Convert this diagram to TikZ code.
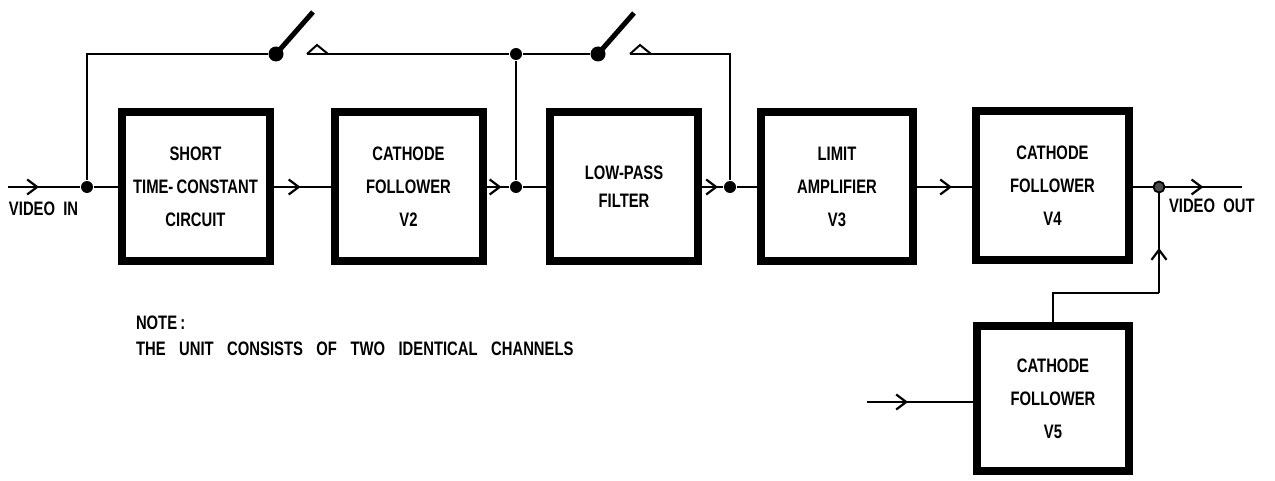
\documentclass[tikz,border=0pt]{standalone}
\usepackage{fontspec}
\newfontfamily\diafont{Liberation Sans}[FakeStretch=0.76]
\usetikzlibrary{arrows.meta,decorations.markings}
\tikzset{
  diatext/.style={font=\diafont\bfseries\fontsize{19.5}{33}\selectfont},
  blk/.style={draw, line width=8pt, inner sep=0pt, minimum width=148pt, minimum height=149pt, align=center, diatext},
  dot/.style={circle, fill=black, inner sep=0pt, minimum size=12pt},
  pivot/.style={circle, fill=black, inner sep=0pt, minimum size=15pt},
  odot/.style={circle, draw=black, fill=black!70, line width=1.8pt, inner sep=0pt, minimum size=11pt},
  lbl/.style={diatext, inner sep=0pt, anchor=west},
  blade/.style={line width=5pt},
  midarrow/.style={postaction={decorate}, decoration={markings, mark=at position #1 with {\arrow{Straight Barb[length=10pt,width=15pt,line width=2.2pt]}}}}
}
\newcommand{\gp}{\hspace{13.5pt}}
\begin{document}
\begin{tikzpicture}[x=1pt,y=-1pt,line width=2pt]
\useasboundingbox (0,0) rectangle (1275,481);
% blocks
\node[blk] (b1) at (195.5,187) {SHORT\\TIME-\,CONSTANT\\CIRCUIT};
\node[blk] (b2) at (408.5,187) {CATHODE\\FOLLOWER\\V2};
\node[blk] (b3) at (624,187) {LOW-PASS\\[-5pt]FILTER};
\node[blk, minimum width=152pt] (b4) at (837,187) {LIMIT\\AMPLIFIER\\V3};
\node[blk, minimum width=153pt] (b5) at (1052.5,186) {CATHODE\\FOLLOWER\\V4};
\node[blk, minimum width=152pt, minimum height=145pt] (b6) at (1053,398.5) {CATHODE\\FOLLOWER\\V5};
% junctions
\coordinate (in) at (8,187);
\node[dot] (j1) at (87,187) {};
\node[dot] (j2) at (516,187) {};
\node[dot] (j3) at (730,187) {};
\node[dot] (t2) at (516,54) {};
\coordinate (t1) at (87,54);
\coordinate (t3) at (730,54);
\node[pivot] (s1) at (276,54) {};
\node[pivot] (s2) at (598,54) {};
\coordinate (s1tip) at (313,12);
\coordinate (s2tip) at (634,13);
\coordinate (c1a) at (307,54);
\coordinate (c1b) at (317,45);
\coordinate (c1c) at (328,54);
\coordinate (c2a) at (630,54);
\coordinate (c2b) at (640,45);
\coordinate (c2c) at (651,54);
\node[odot] (jo) at (1159,187) {};
\coordinate (out) at (1242,187);
\coordinate (c5) at (1159,293);
\coordinate (in5) at (867,402);
% main line
\draw[midarrow=31pt, line width=2.6pt] (in) -- (j1);
\draw (j1) -- (b1.west |- j1);
\draw[midarrow=27pt] (b1.east |- j1) -- (b2.west |- j1);
\draw[midarrow=15pt] (b2.east |- j2) -- (j2);
\draw (j2) -- (b3.west |- j2);
\draw[midarrow=16pt] (b3.east |- j3) -- (j3);
\draw (j3) -- (b4.west |- j3);
\draw[midarrow=35pt] (b4.east |- j3) -- (b5.west |- j3);
\draw (b5.east |- jo) -- (jo);
\draw[midarrow=38pt] (jo) -- (out);
% bypass lines and switches
\draw (j1) -- (t1) -- (s1);
\draw[blade] (s1.center) -- (s1tip);
\draw (c1a) -- (c1b) -- (c1c);
\draw (c1a) -- (t2) -- (s2);
\draw[blade] (s2.center) -- (s2tip);
\draw (c2a) -- (c2b) -- (c2c);
\draw (c2a) -- (t3) -- (j3);
\draw (t2) -- (j2);
% V5 path
\draw (b6.north) |- (c5);
\draw[midarrow=45pt] (c5) -- (jo);
\draw[midarrow=41pt] (in5) -- (in5 -| b6.west);
% labels
\node[lbl] (vin) at (8,209) {VIDEO\ \ IN};
\node[lbl] (vout) at (1168,206) {VIDEO\ \ OUT};
\node[lbl] (note1) at (135,323) {NOTE\,:};
\node[lbl] (note2) at (135,349) {THE\gp UNIT\gp CONSISTS\gp OF\gp TWO\gp IDENTICAL\gp CHANNELS};
\end{tikzpicture}
\end{document}
